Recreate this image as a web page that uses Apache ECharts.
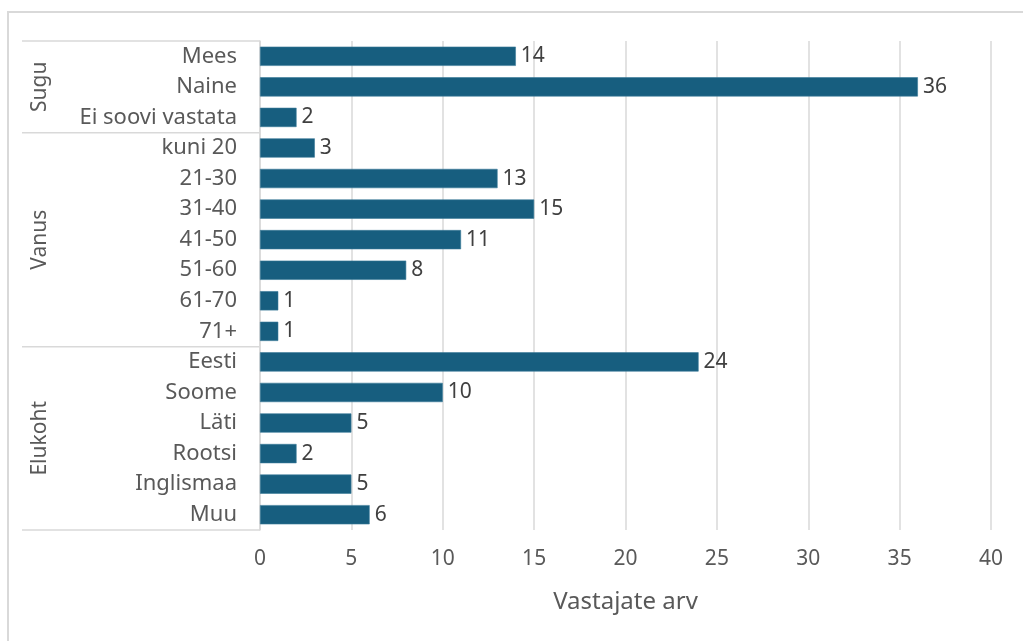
<!DOCTYPE html>
<html><head><meta charset="utf-8">
<script src="https://cdn.jsdelivr.net/npm/echarts@6/dist/echarts.min.js"></script>
<style>html,body{margin:0;padding:0;background:#fff}#c{width:1023px;height:641px}</style>
</head><body><div id="c"></div>
<script>
const groups = ['Sugu', 'Vanus', 'Elukoht'];
const groupSizes = [3, 7, 6];
const categories = ['Mees','Naine','Ei soovi vastata','kuni 20','21-30','31-40','41-50','51-60','61-70','71+','Eesti','Soome','Läti','Rootsi','Inglismaa','Muu'];
const values = [14,36,2,3,13,15,11,8,1,1,24,10,5,2,5,6];
const xTicks = {min:0, max:40, interval:5};
const axisTitle = 'Vastajate arv';

const FONT = '"Noto Sans", sans-serif';
const chart = echarts.init(document.getElementById('c'), null, {renderer:'canvas'});
const option = {
  animation:false,
  backgroundColor:'#fff',
  grid:{left:260, right:32, top:41, bottom:111},
  xAxis:{type:'value', min:xTicks.min, max:xTicks.max, interval:xTicks.interval,
    axisLine:{show:false}, axisTick:{show:false},
    splitLine:{lineStyle:{color:'#d9d9d9', width:1.5}},
    axisLabel:{fontSize:21, color:'#595959', fontFamily:FONT, margin:19},
    name:axisTitle, nameLocation:'middle', nameGap:60,
    nameTextStyle:{fontSize:24, color:'#595959', fontFamily:FONT}},
  yAxis:{type:'category', data:categories, inverse:true,
    axisLine:{show:true, lineStyle:{color:'#d9d9d9', width:1.5}},
    axisTick:{show:false},
    axisLabel:{fontSize:22, color:'#595959', fontFamily:FONT, margin:23}},
  series:[{type:'bar', data:values, barCategoryGap:'37%',
    itemStyle:{color:'#175e7f', borderColor:'#3b7a98', borderWidth:0.6},
    label:{show:true, position:'right', distance:5, fontSize:21, color:'#404040', fontFamily:FONT}}]
};
chart.setOption(option);

// group brackets computed from the axis scale
const g = [];
g.push({type:'rect', shape:{x:8, y:12, width:1100, height:700}, style:{fill:null, stroke:'#d9d9d9', lineWidth:2}, silent:true});
const x0 = chart.convertToPixel({xAxisIndex:0}, 0);
const yAt = i => chart.convertToPixel({yAxisIndex:0}, categories[i]);
const band = yAt(1) - yAt(0);
let start = 0;
const edges = [];
groupSizes.forEach((n, gi) => {
  const top = yAt(start) - band/2;
  const bot = yAt(start + n - 1) + band/2;
  edges.push(top); if (gi === groupSizes.length-1) edges.push(bot);
  g.push({type:'text', x:40, y:(top+bot)/2, rotation:Math.PI/2,
    style:{text:groups[gi], fontSize:21, fill:'#595959', fontFamily:FONT, align:'center', verticalAlign:'middle'}});
  start += n;
});
edges.forEach(y => g.push({type:'line', shape:{x1:22, y1:y, x2:x0, y2:y}, style:{stroke:'#d9d9d9', lineWidth:1.5}, silent:true}));
chart.setOption({graphic:g});
</script></body></html>
